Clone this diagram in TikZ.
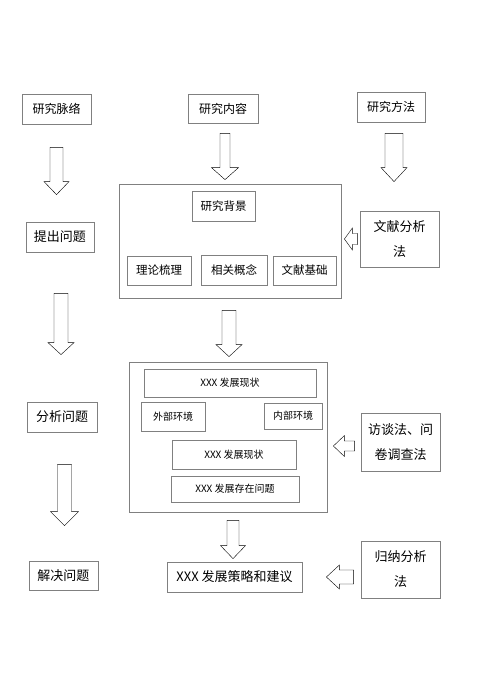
\documentclass[tikz,border=0pt]{standalone}
\usepackage{fontspec}
\setmainfont{Noto Sans CJK SC}
\usetikzlibrary{calc}
\definecolor{boxgray}{RGB}{128,128,128}
\definecolor{arblue}{RGB}{88,104,138}

\begin{document}
\begin{tikzpicture}
                [x=1pt,y=-1pt,
                n/.style={draw=boxgray,line width=0.8pt,inner sep=0pt,align=center,font=\fontsize{13}{25}\selectfont},
                top/.style={n,font=\fontsize{12}{14}\selectfont},
                mid/.style={n,font=\fontsize{11.5}{14}\selectfont},
                small/.style={n,font=\fontsize{10}{12}\selectfont},
                sz/.style 2 args={minimum width=#1pt,minimum height=#2pt},
                vblock/.style n args={3}{draw=arblue,line width=0.8pt,fill=white,
                  to path={let \p1=(\tikztostart), \p2=(\tikztotarget) in
                  (\x1-#1pt,\y1) -- (\x1-#1pt,\y2+#3pt) -- (\x1-#2pt,\y2+#3pt) -- (\x1,\y2)
                  -- (\x1+#2pt,\y2+#3pt) -- (\x1+#1pt,\y2+#3pt) -- (\x1+#1pt,\y1) -- cycle}},
                hblock/.style n args={3}{draw=arblue,line width=0.8pt,fill=white,
                  to path={let \p1=(\tikztostart), \p2=(\tikztotarget) in
                  (\x1,\y1+#1pt) -- (\x2+#3pt,\y1+#1pt) -- (\x2+#3pt,\y1+#2pt) -- (\x2,\y1)
                  -- (\x2+#3pt,\y1-#2pt) -- (\x2+#3pt,\y1-#1pt) -- (\x1,\y1-#1pt) -- cycle}}]
                \useasboundingbox (0,0) rectangle (500,694);
                % left column
                \node[top,sz={69}{30}] (mailuo) at (56.5,109) {研究脉络};
                \node[n,sz={68}{30}] (tichu) at (60,237) {提出问题};
                \node[n,sz={70}{30}] (fenxi) at (62,417) {分析问题};
                \node[n,sz={69}{29}] (jiejue) at (63.5,575.5) {解决问题};
                % middle column
                \node[top,sz={70}{29}] (neirong) at (223,108.5) {研究内容};
                \node[n,sz={222}{114}] (kuang1) at (230,241) {};
                \node[mid,sz={63}{30}] (beijing) at (223.5,206) {研究背景};
                \node[mid,sz={64}{29}] (shuli) at (159,270.5) {理论梳理};
                \node[mid,sz={66}{30}] (gainian) at (234,270) {相关概念};
                \node[mid,sz={63}{29}] (jichu) at (304.5,270.5) {文献基础};
                \node[n,sz={198}{150}] (kuang2) at (228,437) {};
                \node[small,sz={172}{28}] (xianzhuang) at (230,383) {XXX 发展现状};
                \node[small,sz={64}{29}] (waibu) at (173,416.5) {外部环境};
                \node[small,sz={58}{26}] (neibu) at (293,416) {内部环境};
                \node[small,sz={124}{29}] (xianzhuangb) at (234,454.5) {XXX 发展现状};
                \node[small,sz={128}{26}] (wenti) at (235,489) {XXX 发展存在问题};
                \node[n,sz={135}{30}] (celue) at (234.5,577) {XXX 发展策略和建议};
                % right column
                \node[top,sz={68}{30}] (fangfa) at (391,107) {研究方法};
                \node[n,sz={79}{56}] (wenxian) at (399.5,239) {文献分析\\法};
                \node[n,sz={79}{58}] (fangtan) at (400.5,442) {访谈法、问\\卷调查法};
                \node[n,sz={79}{57}] (guina) at (400.5,569.5) {归纳分析\\法};
                % block arrows
                \draw ([yshift=-23pt]mailuo.south) to[vblock={6.5}{12.5}{13}] ([yshift=27pt]tichu.north);
                \draw ([xshift=1pt,yshift=-41pt]tichu.south) to[vblock={7}{13}{12}] ([yshift=47pt]fenxi.north);
                \draw ([xshift=2.5pt,yshift=-32pt]fenxi.south) to[vblock={7}{14}{14}] ([yshift=35pt]jiejue.north);
                \draw ([xshift=2pt,yshift=-10pt]neirong.south) to[vblock={5}{13.5}{12}] ([yshift=4pt]kuang1.north);
                \draw ([xshift=-1pt,yshift=-12pt]kuang1.south) to[vblock={7}{13}{12}] ([yshift=5pt]kuang2.north);
                \draw ([xshift=5pt,yshift=-8pt]kuang2.south) to[vblock={6}{12.5}{13}] ([yshift=3pt]celue.north);
                \draw ([xshift=3pt,yshift=-11pt]fangfa.south) to[vblock={9}{13}{14}] ([yshift=29pt]wenxian.north);
                \draw ([xshift=-2pt]wenxian.west) to[hblock={5.5}{11}{8}] ([xshift=3pt]kuang1.east);
                \draw ([xshift=-6pt,yshift=-4pt]fangtan.west) to[hblock={5}{10.5}{11}] ([xshift=6pt]kuang2.east);
                \draw ([xshift=-7pt,yshift=-7.5pt]guina.west) to[hblock={7}{12}{13}] ([xshift=24pt]celue.east);
\end{tikzpicture}
\end{document}
